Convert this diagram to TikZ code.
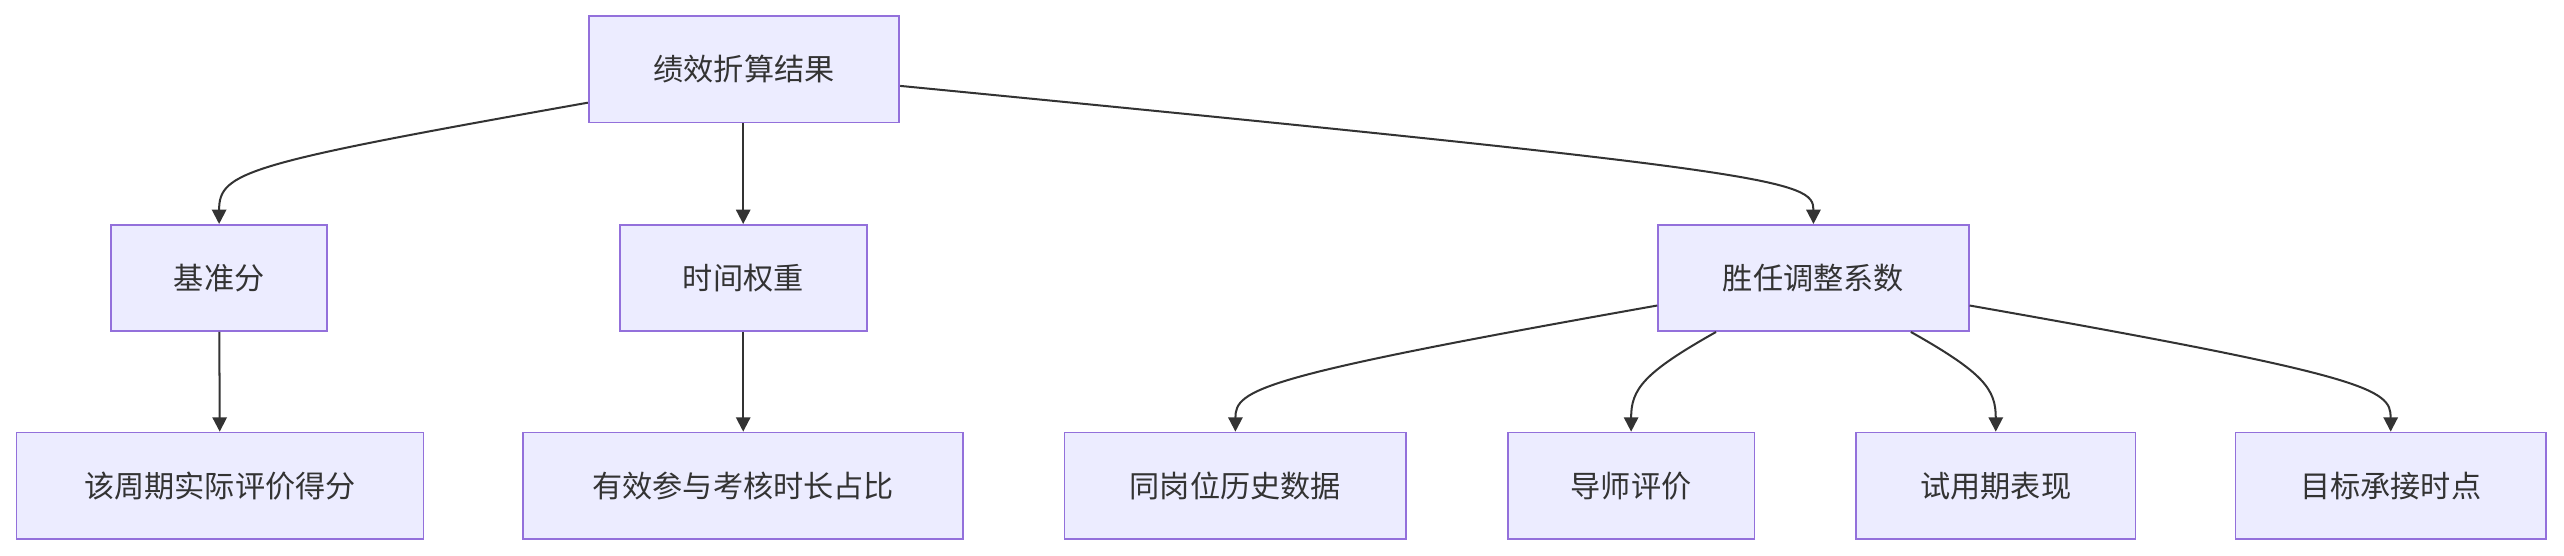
\documentclass[tikz,border=0pt]{standalone}
\usepackage{fontspec}
\newfontfamily\cjk{Noto Sans CJK SC}
\usetikzlibrary{arrows.meta, positioning, calc}
\definecolor{boxfill}{HTML}{ECECFF}
\definecolor{boxline}{HTML}{9370DB}
\definecolor{ink}{HTML}{333333}

\begin{document}
\begin{tikzpicture}[x=0.02cm, y=-0.02cm,
    % Define styles
    box/.style={rectangle, draw=boxline, fill=boxfill, line width=0.6pt, minimum height=1.3cm, inner sep=0pt, font=\cjk\fontsize{10.5}{12}\selectfont, text=ink},
    arrow/.style={-{Triangle[length=5pt, width=5pt]}, draw=ink, line width=0.7pt},
    ]
    \useasboundingbox (0,0) rectangle (1568,340);

    % Top node
    \node[box, minimum width=3.8cm] (result) at (455,42.5) {绩效折算结果};

    % Middle row
    \node[box, minimum width=2.64cm] (base) at (134,170) {基准分};
    \node[box, minimum width=3.02cm] (timew) at (454.5,170) {时间权重};
    \node[box, minimum width=3.8cm] (coef) at (1109,170) {胜任调整系数};

    % Bottom row
    \node[box, minimum width=4.98cm] (score) at (134.5,297) {该周期实际评价得分};
    \node[box, minimum width=5.38cm] (ratio) at (454.5,297) {有效参与考核时长占比};
    \node[box, minimum width=4.18cm] (hist) at (755.5,297) {同岗位历史数据};
    \node[box, minimum width=3.02cm] (mentor) at (997.5,297) {导师评价};
    \node[box, minimum width=3.42cm] (trial) at (1220.5,297) {试用期表现};
    \node[box, minimum width=3.8cm] (target) at (1462,297) {目标承接时点};

    % Arrows from top
    \draw[arrow] (result.192) .. controls (150,100) and (134,105) .. (base.north);
    \draw[arrow] (result.south -| timew.north) -- (timew.north);
    \draw[arrow] (result.-6) .. controls (1090,105) and (1109,110) .. (coef.north);

    % Straight arrows down
    \draw[arrow] (base) -- (score);
    \draw[arrow] (timew) -- (ratio);

    % Arrows from coefficient
    \draw[arrow] (coef.190) .. controls (770,230) and (755.5,238) .. (hist.north);
    \draw[arrow] (coef.209) .. controls (1005,228) and (997.5,238) .. (mentor.north);
    \draw[arrow] (coef.331) .. controls (1213,228) and (1220.5,238) .. (trial.north);
    \draw[arrow] (coef.350) .. controls (1450,230) and (1462,238) .. (target.north);

\end{tikzpicture}
\end{document}
